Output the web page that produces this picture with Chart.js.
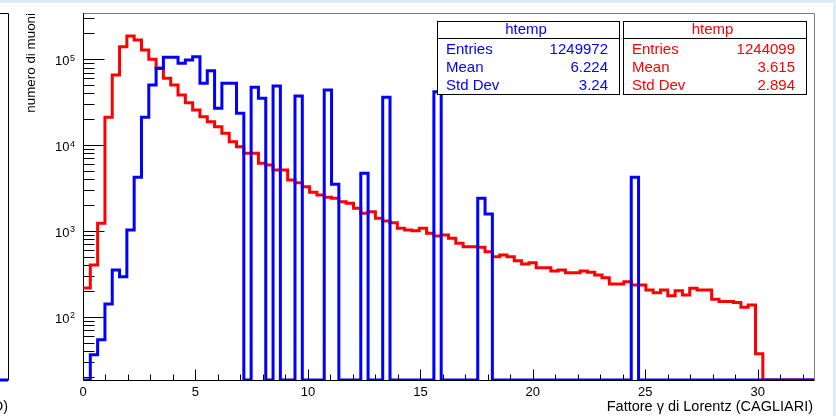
<!DOCTYPE html>
<html>
<head>
<meta charset="utf-8">
<title>Fattore gamma di Lorentz</title>
<script src="https://cdn.jsdelivr.net/npm/chart.js@4/dist/chart.umd.min.js"></script>
<style>
  html, body { margin: 0; padding: 0; background: #dcedf8; overflow: hidden; }
  #wrap { width: 836px; height: 416px; }
</style>
</head>
<body>
<div id="wrap"><canvas id="gammaChart" width="836" height="416"></canvas></div>
<script>
// ================= DATA =================
// 100 bins from 0 to 32.5
const binLow = 0;
const binWidth = 0.325;

const redCounts = [
  216, 400, 1230, 21100, 65600, 140000, 187000, 168000, 128000, 100000,
  78600, 60100, 50200, 38400, 31200, 25700, 21400, 18700, 16400, 13700,
  10950, 9580, 8020, 8020, 6140, 5860, 5125, 5125, 3920, 3650,
  3275, 2820, 2620, 2460, 2400, 2189, 2098, 1834, 1604, 1674,
  1402, 1304, 1246, 1072, 1024, 1005, 1072, 938, 872, 896,
  820, 717, 655, 655, 644, 572, 500, 524, 500, 449,
  411, 426, 372, 372, 341, 350, 326, 326, 341, 329,
  306, 285, 241, 241, 256, 234, 234, 205, 190, 205,
  176, 201, 179, 214, 205, 205, 160, 150, 150, 146,
  129, 137, 37, 0, 0, 0, 0, 0, 0, 0
];

const blueCounts = [
  0, 36, 54, 141, 350, 292, 1024, 4215, 21100, 50200,
  78600, 105500, 105500, 89800, 98100, 107200, 52500, 73600, 26800, 52500,
  52500, 23500, 0, 47200, 35100, 0, 48800, 0, 0, 37400,
  0, 0, 0, 43900, 3490, 0, 0, 0, 4690, 0,
  0, 36100, 0, 0, 0, 0, 0, 0, 41900, 0,
  0, 0, 0, 0, 2400, 1574, 0, 0, 0, 0,
  0, 0, 0, 0, 0, 0, 0, 0, 0, 0,
  0, 0, 0, 0, 0, 4215, 0, 0, 0, 0,
  0, 0, 0, 0, 0, 0, 0, 0, 0, 0,
  0, 0, 0, 0, 0, 0, 0, 0, 0, 0
];

const xRange = [0, 32.5];
const yRange = [18.3, 346000];
const xTickLabels = [0, 5, 10, 15, 20, 25, 30];
const yTickDecades = [2, 3, 4, 5];

const statNames = ["Entries", "Mean", "Std Dev"];
const blueStats = ["1249972", "6.224", "3.24"];
const redStats = ["1244099", "3.615", "2.894"];

const xTitle = "Fattore \u03b3 di Lorentz (CAGLIARI)";
const yTitle = "numero di muoni";

// ================= HELPERS =================
// histogram outline: one point per bin low edge, closing point at the last edge
function histPoints(counts) {
  const pts = counts.map((c, i) => ({
    x: binLow + i * binWidth,
    y: c > 0 ? c : yRange[0]   // empty bins sit on the axis like ROOT does on log scale
  }));
  pts.push({ x: binLow + counts.length * binWidth, y: pts[pts.length - 1].y });
  return pts;
}

const FONT = "'Liberation Sans', Arial, Helvetica, sans-serif";

function drawStatsBox(ctx, left, top, right, color, values) {
  const bottom = top + 73;
  ctx.fillStyle = "#ffffff";
  ctx.fillRect(left, top, right - left, bottom - top);
  ctx.strokeStyle = "#000000";
  ctx.lineWidth = 1;
  ctx.strokeRect(left + 0.5, top + 0.5, right - left, bottom - top);
  ctx.beginPath();
  ctx.moveTo(left, top + 17.5);
  ctx.lineTo(right + 1, top + 17.5);
  ctx.stroke();

  ctx.fillStyle = color;
  ctx.font = "15px " + FONT;
  ctx.textAlign = "center";
  ctx.fillText("htemp", (left + right) / 2 - 2, top + 12.5);
  statNames.forEach((name, i) => {
    const base = top + 33 + i * 18;
    ctx.textAlign = "left";
    ctx.fillText(name, left + 9, base);
    ctx.textAlign = "right";
    ctx.fillText(values[i], right - 11, base);
  });
}

// ================= ROOT STYLE FRAME =================
const rootFrame = {
  id: "rootFrame",
  beforeDraw(chart) {
    const ctx = chart.ctx;
    ctx.save();
    ctx.fillStyle = "#dcedf8";
    ctx.fillRect(0, 0, 836, 416);
    ctx.fillStyle = "#ffffff";
    ctx.fillRect(0, 3, 833, 413);
    ctx.restore();
  },
  beforeDatasetsDraw(chart) {
    const ctx = chart.ctx;
    const a = chart.chartArea;
    const xs = chart.scales.x;
    const ys = chart.scales.y;
    const L = Math.round(a.left) + 0.5;
    const R = Math.round(a.right) + 0.5;
    const T = Math.round(a.top) + 0.5;
    const B = Math.round(a.bottom) + 0.5;
    ctx.save();

    // frame top / right
    ctx.strokeStyle = "#7a7a7a";
    ctx.lineWidth = 1;
    ctx.beginPath();
    ctx.moveTo(L, T);
    ctx.lineTo(R, T);
    ctx.lineTo(R, B);
    ctx.stroke();

    // axes
    ctx.strokeStyle = "#000000";
    ctx.beginPath();
    ctx.moveTo(L, T - 0.5);
    ctx.lineTo(L, B);
    ctx.lineTo(R, B);
    ctx.stroke();

    // x ticks: major every 5, minor every 1
    ctx.beginPath();
    for (let v = Math.ceil(xRange[0]); v <= xRange[1]; v++) {
      const px = Math.round(xs.getPixelForValue(v)) + 0.5;
      const len = v % 5 === 0 ? 11 : 6;
      ctx.moveTo(px, B);
      ctx.lineTo(px, B - len);
    }
    ctx.stroke();

    // y ticks: decades long, 2..9 short
    ctx.beginPath();
    for (let d = 1; d <= 5; d++) {
      for (let m = 1; m <= 9; m++) {
        const v = m * Math.pow(10, d);
        if (v < yRange[0] || v > yRange[1]) continue;
        const py = Math.round(ys.getPixelForValue(v)) + 0.5;
        const len = m === 1 ? 21 : 11;
        ctx.moveTo(L, py);
        ctx.lineTo(L + len, py);
      }
    }
    ctx.stroke();

    // x tick labels
    ctx.fillStyle = "#000000";
    ctx.font = "13px " + FONT;
    ctx.textAlign = "center";
    ctx.textBaseline = "alphabetic";
    xTickLabels.forEach(v => {
      ctx.fillText(String(v), xs.getPixelForValue(v), 395.5);
    });

    // y tick labels 10^n
    yTickDecades.forEach(n => {
      const py = ys.getPixelForValue(Math.pow(10, n));
      ctx.font = "13px " + FONT;
      ctx.textAlign = "right";
      ctx.fillText("10", 69.5, py + 6);
      ctx.font = "9px " + FONT;
      ctx.textAlign = "left";
      ctx.fillText(String(n), 70, py + 1.5);
    });

    // axis titles
    ctx.font = "14.5px " + FONT;
    ctx.textAlign = "right";
    ctx.fillText(xTitle, R - 1.5, 411);

    ctx.save();
    ctx.translate(35, T - 0.5);
    ctx.rotate(-Math.PI / 2);
    ctx.font = "13.4px " + FONT;
    ctx.textAlign = "right";
    ctx.fillText(yTitle, 0, 0);
    ctx.restore();

    // edge of the neighbouring pad
    ctx.strokeStyle = "#000000";
    ctx.beginPath();
    ctx.moveTo(0, T);
    ctx.lineTo(8.5, T);
    ctx.lineTo(8.5, B);
    ctx.stroke();
    ctx.strokeStyle = "#0000ff";
    ctx.lineWidth = 3;
    ctx.beginPath();
    ctx.moveTo(0, B - 0.5);
    ctx.lineTo(8, B - 0.5);
    ctx.stroke();
    ctx.fillStyle = "#000000";
    ctx.font = "14.5px " + FONT;
    ctx.textAlign = "right";
    ctx.fillText("D)", 8, 411);

    ctx.restore();
  },
  afterDatasetsDraw(chart) {
    const ctx = chart.ctx;
    ctx.save();
    drawStatsBox(ctx, 437, 21, 619, "#0000ff", blueStats);
    drawStatsBox(ctx, 623, 21, 806, "#ff0000", redStats);
    ctx.restore();
  }
};

// ================= CHART =================
new Chart(document.getElementById("gammaChart"), {
  type: "line",
  data: {
    datasets: [
      {
        label: "htemp",
        data: histPoints(blueCounts),
        borderColor: "#0000ff",
        borderWidth: 3,
        stepped: "before",
        pointRadius: 0,
        fill: false
      },
      {
        label: "htemp",
        data: histPoints(redCounts),
        borderColor: "#ff0000",
        borderWidth: 3,
        stepped: "before",
        pointRadius: 0,
        fill: false
      }
    ]
  },
  options: {
    responsive: false,
    devicePixelRatio: 1,
    animation: false,
    layout: { padding: { left: 83, right: 22, top: 13, bottom: 36 } },
    plugins: {
      legend: { display: false },
      tooltip: { enabled: false }
    },
    scales: {
      x: { type: "linear", min: xRange[0], max: xRange[1], display: false },
      y: { type: "logarithmic", min: yRange[0], max: yRange[1], display: false }
    }
  },
  plugins: [rootFrame]
});
</script>
</body>
</html>
